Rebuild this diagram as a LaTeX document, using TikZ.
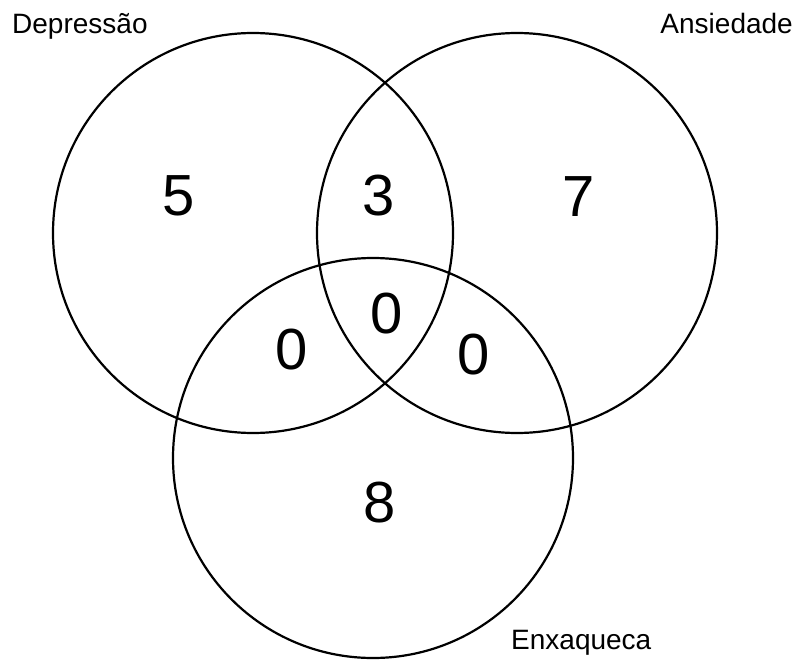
\documentclass[tikz,border=0pt]{standalone}
\usepackage{fontspec}
\setmainfont{Liberation Sans}
\begin{document}
\begin{tikzpicture}[x=1pt,y=-1pt,
  setcircle/.style={draw=black,line width=2.2pt},
  count/.style={inner sep=0pt,font=\fontsize{58}{58}\selectfont},
  setlabel/.style={inner sep=0pt,font=\fontsize{28}{28}\selectfont}]
\useasboundingbox (0,0) rectangle (798,661);
% the three sets
\coordinate (cD) at (253,233);
\coordinate (cA) at (517,233);
\coordinate (cE) at (373,458);
\draw[setcircle] (cD) circle[radius=200];
\draw[setcircle] (cA) circle[radius=200];
\draw[setcircle] (cE) circle[radius=200];
% set names
\node[setlabel,anchor=base west] (lD) at (12,34) {Depressão};
\node[setlabel,anchor=base east] (lA) at (793,34) {Ansiedade};
\node[setlabel,anchor=base west] (lE) at (511,649) {Enxaqueca};
% region counts
\node[count] (nD) at (179,196) {5};
\node[count] (nDA) at (379,196) {3};
\node[count] (nA) at (579,197) {7};
\node[count] (nDE) at (292,350) {0};
\node[count] (nDAE) at (387,314) {0};
\node[count] (nAE) at (474,355) {0};
\node[count] (nE) at (380,503) {8};
\end{tikzpicture}
\end{document}
